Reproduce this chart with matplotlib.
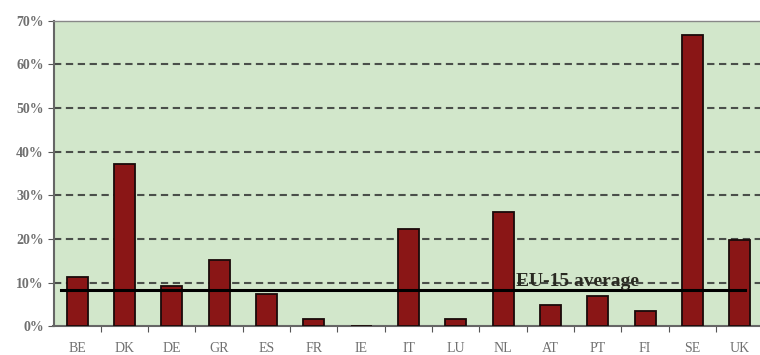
import matplotlib
matplotlib.use("Agg")
import matplotlib.pyplot as plt
from matplotlib.ticker import FuncFormatter

countries = ["BE", "DK", "DE", "GR", "ES", "FR", "IE", "IT", "LU", "NL", "AT", "PT", "FI", "SE", "UK"]
values = [11.4, 37.1, 9.2, 15.2, 7.4, 1.7, 0.0, 22.2, 1.7, 26.2, 5.0, 7.0, 3.5, 66.7, 19.8]
eu15_average = 8.3
avg_label = "EU-15 average"
yticks = [0, 10, 20, 30, 40, 50, 60, 70]

plt.rcParams["font.family"] = ["Liberation Serif", "DejaVu Serif"]

fig = plt.figure(figsize=(7.6, 3.55), dpi=100)
W, H = 760, 355
n = len(countries)
slot = 47.33
left = 53.5
right = left + slot * n
ax = fig.add_axes([left / W, 1 - 326.4 / H, (right - left) / W, (326.4 - 20.6) / H])
ax.set_facecolor("#d2e7cb")

x = list(range(n))
ax.bar(x, values, width=0.44, color="#8a1616", edgecolor="#1a0a0a", linewidth=1.3, zorder=3)

ax.set_xlim(-0.5, n - 0.5)
ax.set_ylim(0, 70)
ax.set_yticks(yticks)
ax.yaxis.set_major_formatter(FuncFormatter(lambda v, p: f"{int(v)}%"))
for yv in yticks[1:-1]:
    ax.axhline(yv, color="#4a4f4a", linestyle=(0, (3.5, 2.2)), linewidth=1.5, zorder=1)

ax.plot([-0.34, 14.1], [eu15_average, eu15_average], color="black", linewidth=2.2, zorder=4)
ax.text(10.57, eu15_average + 0.05, avg_label, ha="center", va="bottom",
        fontsize=14, fontweight="bold", color="#2a2a22", zorder=5)

ax.set_xticks([i + 0.5 for i in range(n - 1)])
ax.set_xticklabels([])
ax.set_xticks(x, minor=True)
ax.set_xticklabels(countries, minor=True)
ax.tick_params(axis="x", which="major", length=4, direction="out", color="#555555")
ax.tick_params(axis="x", which="minor", length=0, pad=11, labelsize=10, labelcolor="#707070")
ax.tick_params(axis="y", length=4, direction="out", color="#555555", pad=3,
               labelsize=10, labelcolor="#707070")
for lbl in ax.get_yticklabels():
    lbl.set_fontweight("bold")

for s in ["left", "bottom"]:
    ax.spines[s].set_color("#666666")
    ax.spines[s].set_linewidth(1.5)
for s in ["top", "right"]:
    ax.spines[s].set_color("#888888")
    ax.spines[s].set_linewidth(1.0)

fig.savefig("out.png", dpi=100)
